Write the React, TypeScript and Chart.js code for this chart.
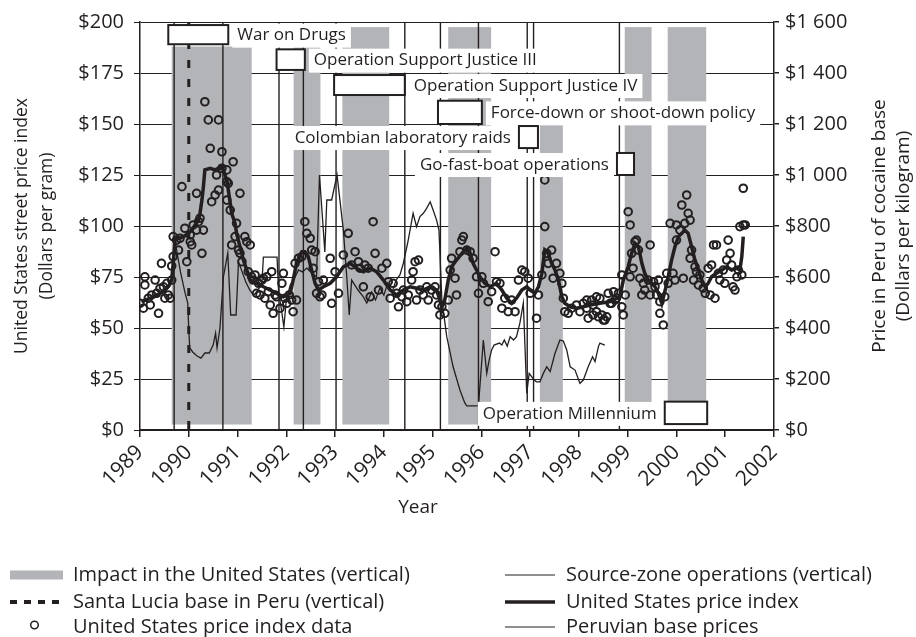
import React, { useEffect, useRef } from "react";
import { Chart, registerables } from "chart.js";

Chart.register(...registerables);

const INK = "#231f20";
const BAND = "#b3b4b8";
const FAMILY = "'Open Sans', 'Noto Sans', 'DejaVu Sans', sans-serif";

// ---- axis tick labels ----
const yearTicks = [1989, 1990, 1991, 1992, 1993, 1994, 1995, 1996, 1997, 1998, 1999, 2000, 2001, 2002];
const leftTickLabels = ["$0", "$25", "$50", "$75", "$100", "$125", "$150", "$175", "$200"];
const rightTickLabels = ["$0", "$200", "$400", "$600", "$800", "$1 000", "$1 200", "$1 400", "$1 600"];

// ---- vertical markers ----
const impactStart = [1989.65, 1992.15, 1993.15, 1995.32, 1997.2, 1998.94, 1999.82];
const impactEnd = [1991.29, 1992.7, 1994.11, 1996.2, 1997.67, 1999.49, 2000.61];
const impactTop = [188.0, 197.5, 197.5, 197.5, 150.4, 197.5, 197.5];
const impactBottom = [2.7, 2.7, 2.7, 2.7, 2.7, 2.7, 2.7];
const sourceZoneYears = [1989.7, 1990.7, 1991.85, 1992.35, 1993.02, 1994.43, 1995.16, 1995.94, 1996.94, 1997.07, 1998.83];
const santaLuciaYear = 1990.0;

// ---- operation annotations ----
const annoNames = [
  "War on Drugs",
  "Operation Support Justice III",
  "Operation Support Justice IV",
  "Force-down or shoot-down policy",
  "Colombian laboratory raids",
  "Go-fast-boat operations",
  "Operation Millennium",
];
const annoBoxStart = [1989.58, 1991.8, 1992.98, 1995.11, 1996.77, 1998.78, 1999.76];
const annoBoxEnd = [1990.81, 1992.38, 1994.43, 1996.01, 1997.16, 1999.13, 2000.63];
const annoBoxTop = [198.5, 186.6, 174.0, 161.4, 149.0, 135.8, 13.9];
const annoBoxBottom = [189.1, 176.5, 164.2, 150.0, 138.2, 125.0, 2.9];
const annoSide = ["right", "right", "right", "right", "left", "left", "left"];

// ---- United States price index (smoothed) ----
const indexYears = [
  1989.03, 1989.21, 1989.34, 1989.48, 1989.58, 1989.65, 1989.68, 1989.72, 1989.79, 1989.89, 1989.99,
  1990.06, 1990.13, 1990.2, 1990.23, 1990.27, 1990.3, 1990.33, 1990.44, 1990.54, 1990.68, 1990.78,
  1990.85, 1990.88, 1990.95, 1990.98, 1991.05, 1991.12, 1991.19, 1991.26, 1991.39, 1991.53, 1991.67,
  1991.8, 1991.94, 1992.08, 1992.14, 1992.21, 1992.32, 1992.38, 1992.45, 1992.52, 1992.59, 1992.66,
  1992.76, 1992.9, 1993.03, 1993.17, 1993.31, 1993.44, 1993.58, 1993.72, 1993.85, 1993.99, 1994.13,
  1994.26, 1994.4, 1994.54, 1994.67, 1994.81, 1994.95, 1995.08, 1995.15, 1995.19, 1995.25, 1995.32,
  1995.39, 1995.49, 1995.6, 1995.7, 1995.77, 1995.83, 1995.9, 1995.97, 1996.07, 1996.18, 1996.31,
  1996.42, 1996.52, 1996.62, 1996.72, 1996.83, 1996.93, 1997.0, 1997.1, 1997.17, 1997.24, 1997.3,
  1997.37, 1997.44, 1997.51, 1997.58, 1997.65, 1997.71, 1997.82, 1997.95, 1998.09, 1998.23, 1998.43,
  1998.64, 1998.84, 1998.91, 1999.01, 1999.08, 1999.15, 1999.22, 1999.29, 1999.35, 1999.42, 1999.49,
  1999.56, 1999.63, 1999.7, 1999.77, 1999.83, 1999.9, 1999.97, 2000.04, 2000.11, 2000.17, 2000.24,
  2000.31, 2000.38, 2000.45, 2000.52, 2000.59, 2000.65, 2000.72, 2000.82, 2000.93, 2001.03, 2001.13,
  2001.24, 2001.3, 2001.34, 2001.37,
];
const indexValues = [
  62.9, 64.6, 66.2, 67.8, 70.2, 73.5, 81.7, 93.1, 94.0, 94.8, 96.4,
  98.0, 100.5, 102.9, 106.2, 112.7, 119.3, 127.5, 128.3, 127.5, 129.1, 122.6,
  111.3, 106.2, 101.3, 96.4, 89.9, 83.3, 78.4, 73.5, 71.9, 70.2, 68.6,
  67.0, 65.3, 67.0, 73.5, 81.7, 87.4, 87.4, 85.0, 78.4, 71.9, 68.6,
  70.2, 71.9, 75.1, 80.0, 81.7, 79.3, 77.6, 79.3, 77.6, 73.5, 68.6,
  66.2, 68.6, 70.2, 69.5, 68.6, 70.2, 68.6, 63.7, 60.4, 63.7, 73.5,
  80.0, 83.3, 86.6, 89.1, 86.6, 81.7, 78.4, 75.1, 71.9, 70.2, 71.9,
  68.6, 64.6, 62.1, 64.6, 68.6, 70.2, 68.6, 67.0, 70.2, 76.8, 88.2,
  86.6, 81.7, 78.4, 73.5, 65.3, 62.1, 60.4, 59.7, 60.4, 61.3, 62.1,
  62.9, 65.3, 73.5, 80.0, 86.6, 91.5, 89.9, 81.7, 76.8, 73.5, 71.9,
  70.2, 67.0, 62.1, 68.6, 75.1, 83.3, 89.9, 94.8, 96.4, 98.0, 96.4,
  89.9, 83.3, 78.4, 73.5, 70.2, 71.9, 75.1, 76.8, 78.4, 80.0, 78.4,
  79.3, 78.4, 85.0, 94.8,
];

// ---- United States price index data (observations) ----
const dataYears = [
  1989.0, 1989.07, 1989.1, 1989.1, 1989.17, 1989.21, 1989.24, 1989.31, 1989.34, 1989.38, 1989.41, 1989.44,
  1989.48, 1989.51, 1989.55, 1989.58, 1989.62, 1989.65, 1989.65, 1989.68, 1989.68, 1989.75, 1989.79, 1989.82,
  1989.86, 1989.92, 1989.96, 1990.03, 1990.03, 1990.06, 1990.09, 1990.16, 1990.16, 1990.2, 1990.23, 1990.27,
  1990.3, 1990.33, 1990.4, 1990.61, 1990.44, 1990.68, 1990.91, 1990.47, 1990.54, 1990.61, 1990.57, 1990.68,
  1990.78, 1990.78, 1990.81, 1990.78, 1990.85, 1990.88, 1990.95, 1990.98, 1991.02, 1991.05, 1991.05, 1991.09,
  1991.15, 1991.19, 1991.22, 1991.26, 1991.29, 1991.32, 1991.36, 1991.39, 1991.43, 1991.46, 1991.5, 1991.53,
  1991.56, 1991.6, 1991.63, 1991.67, 1991.7, 1991.73, 1991.77, 1991.8, 1991.87, 1991.91, 1991.94, 1991.97,
  1992.01, 1992.06, 1992.11, 1992.14, 1992.18, 1992.21, 1992.25, 1992.32, 1992.38, 1992.42, 1992.49, 1992.52,
  1992.55, 1992.59, 1992.62, 1992.66, 1992.69, 1992.73, 1992.76, 1992.9, 1992.93, 1993.0, 1993.07, 1993.17,
  1993.27, 1993.34, 1993.41, 1993.48, 1993.51, 1993.58, 1993.61, 1993.68, 1993.72, 1993.78, 1993.82, 1993.89,
  1993.96, 1994.06, 1994.09, 1994.13, 1994.19, 1994.26, 1994.3, 1994.37, 1994.4, 1994.47, 1994.5, 1994.57,
  1994.6, 1994.64, 1994.71, 1994.67, 1994.74, 1994.81, 1994.88, 1994.91, 1994.98, 1995.05, 1995.08, 1995.12,
  1995.15, 1995.19, 1995.25, 1995.32, 1995.36, 1995.39, 1995.46, 1995.49, 1995.56, 1995.6, 1995.63, 1995.7,
  1995.77, 1995.83, 1995.9, 1995.94, 1996.01, 1996.04, 1996.14, 1996.21, 1996.28, 1996.31, 1996.38, 1996.42,
  1996.48, 1996.55, 1996.62, 1996.69, 1996.76, 1996.83, 1996.89, 1996.96, 1997.0, 1997.13, 1997.17, 1997.24,
  1997.3, 1997.3, 1997.34, 1997.37, 1997.44, 1997.47, 1997.54, 1997.61, 1997.65, 1997.68, 1997.71, 1997.78,
  1997.85, 1997.95, 1998.02, 1998.09, 1998.16, 1998.19, 1998.26, 1998.29, 1998.36, 1998.43, 1998.47, 1998.53,
  1998.6, 1998.64, 1998.74, 1998.81, 1998.16, 1998.29, 1998.36, 1998.4, 1998.5, 1998.57, 1998.67, 1998.71,
  1998.77, 1998.88, 1998.91, 1998.88, 1998.95, 1999.01, 1999.05, 1999.05, 1999.08, 1999.11, 1999.15, 1999.18,
  1999.22, 1999.25, 1999.29, 1999.32, 1999.35, 1999.42, 1999.46, 1999.46, 1999.53, 1999.56, 1999.59, 1999.63,
  1999.66, 1999.66, 1999.73, 1999.76, 1999.8, 1999.83, 1999.87, 1999.93, 1999.97, 2000.0, 2000.0, 2000.07,
  2000.11, 2000.14, 2000.17, 2000.21, 2000.24, 2000.28, 2000.28, 2000.31, 2000.35, 2000.38, 2000.41, 2000.45,
  2000.48, 2000.55, 2000.59, 2000.65, 2000.69, 2000.72, 2000.76, 2000.79, 2000.82, 2000.86, 2000.89, 2000.96,
  2000.99, 2001.03, 2001.06, 2001.1, 2001.13, 2001.16, 2001.2, 2001.24, 2001.27, 2001.3, 2001.34, 2001.37,
  2001.41, 2001.37,
];
const dataValues = [
  62.1, 59.7, 75.1, 71.1, 64.6, 61.3, 66.2, 73.5, 67.0, 57.2, 69.5, 81.7,
  70.2, 64.6, 71.9, 66.2, 64.6, 73.5, 80.4, 85.0, 94.8, 93.1, 88.2, 94.0,
  119.3, 98.9, 82.5, 92.3, 95.6, 90.7, 100.5, 116.0, 98.0, 102.1, 103.8, 86.6,
  98.0, 160.9, 152.0, 152.0, 138.1, 136.4, 131.5, 111.9, 115.2, 117.6, 125.0, 128.3,
  127.5, 121.7, 120.9, 112.7, 107.8, 90.7, 94.8, 101.3, 88.2, 116.0, 86.6, 82.5,
  94.8, 92.3, 77.6, 90.7, 75.1, 73.5, 76.0, 67.0, 71.9, 66.2, 73.5, 74.4,
  64.6, 75.1, 67.8, 61.3, 77.6, 57.2, 66.2, 65.3, 59.7, 71.9, 76.8, 64.6,
  62.1, 66.2, 63.7, 58.0, 81.7, 63.7, 84.2, 85.0, 102.1, 96.4, 94.0, 88.2,
  79.3, 87.4, 67.0, 72.7, 65.3, 66.2, 73.5, 84.2, 62.1, 77.6, 67.0, 85.8,
  96.4, 80.9, 87.4, 82.5, 79.3, 70.2, 80.9, 79.3, 65.3, 102.1, 86.6, 68.6,
  79.3, 81.7, 72.7, 64.6, 71.9, 67.0, 60.4, 65.3, 68.6, 62.9, 66.2, 73.5,
  77.6, 82.5, 83.3, 63.7, 68.6, 66.2, 70.2, 63.7, 68.6, 70.2, 66.2, 61.3,
  56.4, 60.4, 57.2, 63.7, 78.4, 84.2, 74.4, 66.2, 87.4, 93.1, 94.8, 88.2,
  87.4, 84.2, 75.1, 67.0, 75.1, 71.9, 62.9, 67.8, 87.4, 72.7, 71.9, 59.7,
  64.6, 58.0, 63.7, 58.0, 73.5, 78.4, 77.6, 74.4, 67.0, 54.8, 66.2, 76.0,
  122.6, 99.7, 86.6, 81.7, 88.2, 74.4, 81.7, 76.8, 71.9, 64.6, 58.0, 57.2,
  59.7, 61.3, 58.0, 62.1, 59.7, 54.8, 63.7, 56.4, 58.0, 64.6, 56.4, 53.9,
  67.0, 62.1, 63.7, 67.0, 63.7, 61.3, 65.3, 55.5, 53.9, 55.5, 62.1, 67.8,
  64.6, 60.4, 56.4, 76.0, 66.2, 107.0, 100.5, 75.1, 86.6, 79.3, 92.3, 93.1,
  88.2, 74.4, 66.2, 71.9, 68.6, 73.5, 90.7, 66.2, 72.7, 70.2, 66.2, 73.5,
  62.9, 57.2, 51.5, 65.3, 76.8, 71.9, 101.3, 76.8, 73.5, 100.5, 93.1, 98.0,
  110.3, 74.4, 101.3, 115.2, 106.2, 102.9, 84.2, 88.2, 73.5, 80.0, 77.6, 71.1,
  76.0, 69.5, 67.0, 79.3, 66.2, 80.9, 90.7, 64.6, 90.7, 76.8, 73.5, 78.4,
  71.9, 83.3, 93.1, 86.6, 80.9, 70.2, 68.6, 75.1, 78.4, 99.7, 76.0, 100.5,
  100.5, 118.5,
];

// ---- Peruvian base prices (right axis, dollars per kilogram) ----
const peruYears = [
  1989.69, 1989.75, 1989.83, 1989.92, 1989.98,
  1990.0, 1990.02, 1990.08, 1990.17, 1990.25, 1990.33, 1990.42, 1990.5, 1990.55, 1990.58, 1990.64, 1990.71, 1990.8, 1990.86, 1990.97,
  1991.02, 1991.08, 1991.17, 1991.25, 1991.33, 1991.42, 1991.5, 1991.53, 1991.67, 1991.81, 1991.84, 1991.9, 1991.95,
  1992.0, 1992.08, 1992.17, 1992.25, 1992.33, 1992.42, 1992.5, 1992.62, 1992.68, 1992.79, 1992.83, 1992.93,
  1993.04, 1993.17, 1993.24, 1993.29, 1993.34, 1993.47, 1993.58, 1993.65, 1993.75, 1993.83, 1993.92,
  1994.0, 1994.08, 1994.17, 1994.25, 1994.33, 1994.4, 1994.5, 1994.6, 1994.67, 1994.74, 1994.81, 1994.88, 1994.95,
  1995.01, 1995.08, 1995.13, 1995.19, 1995.29, 1995.42, 1995.56, 1995.66, 1995.7, 1995.94,
  1996.04, 1996.11, 1996.16, 1996.21, 1996.26, 1996.37, 1996.42, 1996.47, 1996.53, 1996.59, 1996.66, 1996.72, 1996.79, 1996.86, 1996.93, 1996.98,
  1997.03, 1997.08, 1997.13, 1997.2, 1997.27, 1997.34, 1997.41, 1997.51, 1997.61, 1997.68, 1997.75, 1997.82, 1997.92,
  1998.02, 1998.09, 1998.19, 1998.28, 1998.33, 1998.4, 1998.43, 1998.53,
];
const peruValues = [
  761, 706, 620, 541, 498,
  392, 322, 306, 290, 282, 302, 302, 333, 380, 322, 400, 600, 694, 451, 451,
  659, 628, 580, 549, 529, 549, 576, 678, 678, 678, 549, 471, 404,
  510, 569, 596, 628, 620, 635, 620, 600, 1000, 698, 902, 902,
  1000, 784, 600, 451, 588, 549, 522, 498, 541, 510, 557,
  529, 576, 541, 588, 608, 654, 745, 850, 797, 837, 850, 870, 895,
  863, 824, 784, 510, 366, 248, 157, 106, 95, 95,
  353, 222, 275, 314, 333, 341, 333, 353, 329, 366, 353, 366, 420, 498, 144, 222,
  209, 196, 189, 189, 222, 248, 229, 301, 353, 349, 314, 248, 235,
  183, 196, 248, 287, 268, 327, 341, 333,
];

// ---- titles & legend ----
const leftTitle = ["United States street price index", "(Dollars per gram)"];
const rightTitle = ["Price in Peru of cocaine base", "(Dollars per kilogram)"];
const xTitle = "Year";
const legendLeft = [
  { label: "Impact in the United States (vertical)", sym: "band" },
  { label: "Santa Lucia base in Peru (vertical)", sym: "dash" },
  { label: "United States price index data", sym: "circle" },
];
const legendRight = [
  { label: "Source-zone operations (vertical)", sym: "thin" },
  { label: "United States price index", sym: "thick" },
  { label: "Peruvian base prices", sym: "thin" },
];

function pts(xs: number[], ys: number[]) {
  const n = Math.min(xs.length, ys.length);
  const out: { x: number; y: number }[] = [];
  for (let i = 0; i < n; i++) out.push({ x: xs[i], y: ys[i] });
  return out;
}

const overlayPlugin = {
  id: "overlay",
  beforeDatasetsDraw(chart: any) {
    const { ctx, scales } = chart;
    const x = scales.x;
    const y = scales.y;
    ctx.save();
    // impact bands
    ctx.fillStyle = BAND;
    for (let i = 0; i < impactStart.length; i++) {
      const x0 = x.getPixelForValue(impactStart[i]);
      const x1 = x.getPixelForValue(impactEnd[i]);
      const yt = y.getPixelForValue(impactTop[i]);
      const yb = y.getPixelForValue(impactBottom[i]);
      ctx.fillRect(x0, yt, x1 - x0, yb - yt);
    }
    // source-zone operation lines
    const top = y.getPixelForValue(200);
    const bottom = y.getPixelForValue(0);
    ctx.strokeStyle = INK;
    ctx.lineWidth = 1.4;
    for (const yr of sourceZoneYears) {
      const px = x.getPixelForValue(yr);
      ctx.beginPath();
      ctx.moveTo(px, top);
      ctx.lineTo(px, bottom);
      ctx.stroke();
    }
    // Santa Lucia dashed line
    ctx.setLineDash([8, 11]);
    ctx.lineWidth = 3;
    const sx = x.getPixelForValue(santaLuciaYear);
    ctx.beginPath();
    ctx.moveTo(sx, top);
    ctx.lineTo(sx, bottom);
    ctx.stroke();
    ctx.restore();
  },
  afterDatasetsDraw(chart: any) {
    const { ctx, scales } = chart;
    const x = scales.x;
    const y = scales.y;
    ctx.save();
    ctx.font = `17px ${FAMILY}`;
    ctx.textBaseline = "middle";
    for (let i = 0; i < annoNames.length; i++) {
      const x0 = x.getPixelForValue(annoBoxStart[i]);
      const x1 = x.getPixelForValue(annoBoxEnd[i]);
      const y0 = y.getPixelForValue(annoBoxTop[i]);
      const y1 = y.getPixelForValue(annoBoxBottom[i]);
      ctx.fillStyle = "#ffffff";
      ctx.fillRect(x0, y0, x1 - x0, y1 - y0);
      ctx.strokeStyle = INK;
      ctx.lineWidth = 2;
      ctx.strokeRect(x0, y0, x1 - x0, y1 - y0);
      const name = annoNames[i];
      const tw = ctx.measureText(name).width;
      const cy = (y0 + y1) / 2 + 1;
      const bw = tw + 10;
      const bx = annoSide[i] === "right" ? x1 + 4 : x0 - 3 - bw;
      ctx.fillStyle = "#ffffff";
      ctx.fillRect(bx, cy - 12, bw, 24);
      ctx.fillStyle = INK;
      ctx.textAlign = "left";
      ctx.fillText(name, bx + 5, cy);
    }
    ctx.restore();
  },
  afterDraw(chart: any) {
    const { ctx, chartArea } = chart;
    ctx.save();
    ctx.fillStyle = INK;
    ctx.textAlign = "center";
    ctx.textBaseline = "middle";
    const cy = (chartArea.top + chartArea.bottom) / 2;
    const leftX = [22, 47];
    const rightX = [880, 904];
    ctx.font = `17.5px ${FAMILY}`;
    for (let i = 0; i < leftTitle.length; i++) {
      ctx.save();
      ctx.translate(leftX[i], cy);
      ctx.rotate(-Math.PI / 2);
      ctx.fillText(leftTitle[i], 0, 0);
      ctx.restore();
    }
    ctx.font = `19px ${FAMILY}`;
    for (let i = 0; i < rightTitle.length; i++) {
      ctx.save();
      ctx.translate(rightX[i], cy);
      ctx.rotate(-Math.PI / 2);
      ctx.fillText(rightTitle[i], 0, 0);
      ctx.restore();
    }
    ctx.font = `19px ${FAMILY}`;
    ctx.fillText(xTitle, 418, 508);

    // legend
    const rows = [575, 602, 627];
    ctx.font = `20px ${FAMILY}`;
    ctx.textAlign = "left";
    const drawSym = (sym: string, x0: number, x1: number, yy: number) => {
      ctx.save();
      ctx.strokeStyle = INK;
      if (sym === "band") {
        ctx.fillStyle = BAND;
        ctx.fillRect(x0, yy - 4.5, x1 - x0, 9);
      } else if (sym === "dash") {
        ctx.lineWidth = 4;
        ctx.setLineDash([7, 7]);
        ctx.beginPath();
        ctx.moveTo(x0, yy);
        ctx.lineTo(x1, yy);
        ctx.stroke();
      } else if (sym === "circle") {
        ctx.lineWidth = 1.5;
        ctx.beginPath();
        ctx.arc((x0 + x1) / 2 - 2, yy - 2, 3.8, 0, Math.PI * 2);
        ctx.stroke();
      } else if (sym === "thin") {
        ctx.lineWidth = 1.2;
        ctx.beginPath();
        ctx.moveTo(x0, yy);
        ctx.lineTo(x1, yy);
        ctx.stroke();
      } else if (sym === "thick") {
        ctx.lineWidth = 3.5;
        ctx.beginPath();
        ctx.moveTo(x0, yy);
        ctx.lineTo(x1, yy);
        ctx.stroke();
      }
      ctx.restore();
    };
    for (let i = 0; i < rows.length; i++) {
      drawSym(legendLeft[i].sym, 10, 63, rows[i]);
      ctx.fillStyle = INK;
      ctx.fillText(legendLeft[i].label, 73, rows[i]);
      drawSym(legendRight[i].sym, 505, 555, rows[i]);
      ctx.fillStyle = INK;
      ctx.fillText(legendRight[i].label, 566, rows[i]);
    }
    ctx.restore();
  },
};

export default function App() {
  const ref = useRef<HTMLCanvasElement | null>(null);
  useEffect(() => {
    if (!ref.current) return;
    const tickFont = { family: FAMILY, size: 20 };
    const chart = new Chart(ref.current, {
      type: "scatter",
      data: {
        datasets: [
          {
            label: "United States price index",
            data: pts(indexYears, indexValues),
            showLine: true,
            borderColor: INK,
            backgroundColor: INK,
            borderWidth: 3.5,
            pointRadius: 0,
            yAxisID: "y",
            order: 0,
          },
          {
            label: "United States price index data",
            data: pts(dataYears, dataValues),
            showLine: false,
            borderColor: INK,
            backgroundColor: "rgba(0,0,0,0)",
            borderWidth: 2,
            pointRadius: 3.8,
            yAxisID: "y",
            order: 1,
          },
          {
            label: "Peruvian base prices",
            data: pts(peruYears, peruValues),
            showLine: true,
            borderColor: INK,
            backgroundColor: INK,
            borderWidth: 1.3,
            pointRadius: 0,
            yAxisID: "y2",
            order: 2,
          },
        ] as any,
      },
      options: {
        responsive: false,
        devicePixelRatio: 1,
        animation: false,
        events: [],
        layout: { padding: { top: 22, left: 0, right: 0, bottom: 0 } },
        plugins: { legend: { display: false }, tooltip: { enabled: false } },
        scales: {
          x: {
            type: "linear",
            min: yearTicks[0],
            max: yearTicks[yearTicks.length - 1],
            afterBuildTicks: (s: any) => {
              s.ticks = yearTicks.map((v) => ({ value: v }));
            },
            ticks: {
              autoSkip: false,
              maxRotation: 45,
              minRotation: 45,
              padding: 3,
              color: INK,
              font: { family: FAMILY, size: 21 },
              callback: (v: any) => String(v),
            },
            grid: { drawOnChartArea: false, drawTicks: true, tickLength: 7, color: INK, lineWidth: 1.5 },
            border: { color: INK, width: 2 },
            afterFit: (s: any) => {
              s.height = 207;
            },
          },
          y: {
            position: "left",
            min: 0,
            max: 200,
            ticks: {
              stepSize: 25,
              padding: 10,
              color: INK,
              font: tickFont,
              callback: (v: any) => leftTickLabels[Math.round(Number(v) / 25)],
            },
            grid: { color: INK, lineWidth: 1, tickLength: 6, drawTicks: true },
            border: { color: INK, width: 1.5 },
            afterFit: (s: any) => {
              s.width = 140;
            },
          },
          y2: {
            position: "right",
            min: 0,
            max: 1600,
            ticks: {
              stepSize: 200,
              padding: 6,
              color: INK,
              font: tickFont,
              callback: (v: any) => rightTickLabels[Math.round(Number(v) / 200)],
            },
            grid: { drawOnChartArea: false, color: INK, lineWidth: 1.5, tickLength: 5 },
            border: { color: INK, width: 1.5 },
            afterFit: (s: any) => {
              s.width = 142;
            },
          },
        },
      } as any,
      plugins: [overlayPlugin],
    });
    return () => chart.destroy();
  }, []);
  return (
    <div style={{ position: "fixed", left: 0, top: 0, width: 916, height: 637, background: "#ffffff" }}>
      <canvas ref={ref} width={916} height={637} style={{ display: "block", width: 916, height: 637 }} />
    </div>
  );
}
